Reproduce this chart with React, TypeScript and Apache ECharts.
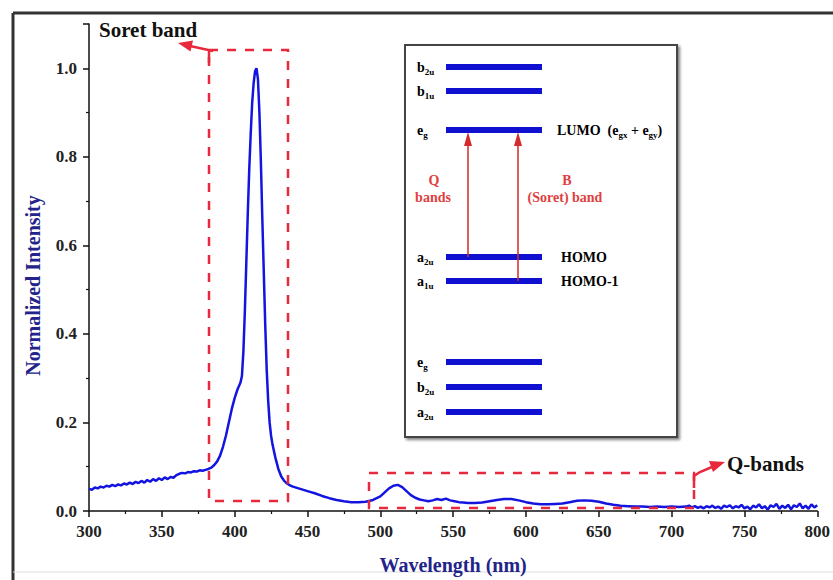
import React, { useEffect, useRef } from "react";
import * as echarts from "echarts";

// Spectrum segments: [wavelength (nm), normalized intensity]
const preSoret: [number, number][] = [
  [300, 0.05], [302, 0.048], [304, 0.053], [306, 0.051], [308, 0.055], [310, 0.053],
  [312, 0.057], [314, 0.055], [316, 0.059], [318, 0.056], [320, 0.06], [322, 0.058],
  [324, 0.062], [326, 0.06], [328, 0.064], [330, 0.061], [332, 0.066], [334, 0.063],
  [336, 0.068], [338, 0.064], [340, 0.07], [342, 0.066], [344, 0.072], [346, 0.068],
  [348, 0.074], [350, 0.07], [352, 0.076], [354, 0.072], [356, 0.077], [358, 0.075],
  [360, 0.081], [362, 0.084], [364, 0.086], [366, 0.085], [368, 0.088], [370, 0.087],
  [372, 0.09], [374, 0.089], [376, 0.092], [378, 0.091], [380, 0.093], [382, 0.095],
];
const soret: [number, number][] = [
  [384, 0.098], [386, 0.104], [388, 0.112], [390, 0.125], [392, 0.145], [394, 0.17],
  [396, 0.2], [398, 0.23], [400, 0.255], [402, 0.275], [404, 0.29], [405, 0.305],
  [406, 0.36], [407, 0.45], [408, 0.56], [409, 0.67], [410, 0.77], [411, 0.85],
  [412, 0.92], [413, 0.965], [414, 0.993], [415, 1.0], [416, 0.975], [417, 0.9],
  [418, 0.79], [419, 0.66], [420, 0.54], [421, 0.42], [422, 0.32], [423, 0.25],
  [424, 0.2], [425, 0.17], [426, 0.15], [428, 0.12], [430, 0.095], [432, 0.078],
  [434, 0.068], [436, 0.062], [438, 0.058], [440, 0.055],
];
const qRegion: [number, number][] = [
  [445, 0.05], [450, 0.045], [455, 0.04], [460, 0.034], [465, 0.029], [470, 0.025],
  [475, 0.022], [480, 0.02], [485, 0.02], [490, 0.021], [495, 0.025], [500, 0.033],
  [503, 0.042], [506, 0.051], [509, 0.057], [512, 0.059], [515, 0.054], [518, 0.045],
  [521, 0.036], [524, 0.03], [527, 0.026], [530, 0.024], [533, 0.022], [536, 0.024],
  [539, 0.027], [542, 0.025], [545, 0.028], [548, 0.024], [551, 0.022], [554, 0.02],
  [557, 0.019], [560, 0.018], [565, 0.018], [570, 0.019], [575, 0.022], [580, 0.025],
  [585, 0.027], [590, 0.027], [595, 0.024], [600, 0.02], [605, 0.017], [610, 0.015],
  [615, 0.015], [620, 0.016], [625, 0.017], [630, 0.02], [635, 0.023], [640, 0.024],
  [645, 0.023], [650, 0.021], [655, 0.017], [660, 0.014], [665, 0.012], [670, 0.011],
  [675, 0.01], [680, 0.01], [685, 0.009], [690, 0.01], [695, 0.009], [700, 0.01],
  [705, 0.009], [710, 0.01],
];
const tail: [number, number][] = [
  [712, 0.012], [714, 0.008], [716, 0.011], [718, 0.007], [720, 0.01], [722, 0.006],
  [724, 0.011], [726, 0.008], [728, 0.012], [730, 0.007], [732, 0.01], [734, 0.005],
  [736, 0.012], [738, 0.009], [740, 0.013], [742, 0.006], [744, 0.011], [746, 0.008],
  [748, 0.014], [750, 0.006], [752, 0.01], [754, 0.004], [756, 0.012], [758, 0.008],
  [760, 0.015], [762, 0.006], [764, 0.011], [766, 0.003], [768, 0.013], [770, 0.009],
  [772, 0.016], [774, 0.005], [776, 0.012], [778, 0.007], [780, 0.014], [782, 0.004],
  [784, 0.013], [786, 0.009], [788, 0.017], [790, 0.006], [792, 0.012], [794, 0.005],
  [796, 0.015], [798, 0.008], [800, 0.013],
];

// Inset energy-level labels (main letter, subscript)
const levelLabels: [string, string][] = [
  ["b", "2u"], ["b", "1u"], ["e", "g"], ["a", "2u"], ["a", "1u"], ["e", "g"], ["b", "2u"], ["a", "2u"],
];
const levelNotes = ["", "", "LUMO", "HOMO", "HOMO-1", "", "", ""];

const SERIF = "'Liberation Serif', 'Times New Roman', serif";
const RED = "#e8283c";
const NAVY = "#23238a";

export default function App() {
  const ref = useRef<HTMLDivElement>(null);

  useEffect(() => {
    if (!ref.current) return;
    const chart = echarts.init(ref.current, null, { renderer: "svg" });
    const data = [...preSoret, ...soret, ...qRegion, ...tail];

    const levelY = [67, 91, 130, 257, 281, 362, 387, 412];
    const rich = {
      m: { fontFamily: SERIF, fontWeight: "bold", fontSize: 14, color: "#333", verticalAlign: "bottom" },
      s: { fontFamily: SERIF, fontWeight: "bold", fontSize: 9, color: "#333", verticalAlign: "bottom", padding: [0, 0, -2, 0] },
    };
    const g: any[] = [];
    // outer frame
    g.push({ type: "line", shape: { x1: 13, y1: 13, x2: 833, y2: 13 }, style: { stroke: "#333", lineWidth: 3 } });
    g.push({ type: "line", shape: { x1: 13, y1: 13, x2: 13, y2: 580 }, style: { stroke: "#333", lineWidth: 3 } });
    g.push({ type: "line", shape: { x1: 13, y1: 572, x2: 833, y2: 572 }, style: { stroke: "#ddd", lineWidth: 1 } });
    // inset box
    g.push({
      type: "rect", z: 50,
      shape: { x: 405, y: 45, width: 272, height: 392 },
      style: { fill: "#fff", stroke: "#444", lineWidth: 2, shadowBlur: 3, shadowOffsetX: 2, shadowOffsetY: 2, shadowColor: "rgba(0,0,0,0.5)" },
    });
    levelY.forEach((y, i) => {
      g.push({ type: "rect", z: 52, shape: { x: 446, y: y - 3, width: 96, height: 6 }, style: { fill: "#1010d0" } });
      const [m, s] = levelLabels[i];
      g.push({
        type: "text", z: 53, x: 417, y: y,
        style: { text: `{m|${m}}{s|${s}}`, rich, verticalAlign: "middle", align: "left" },
      });
    });
    // right labels
    g.push({
      type: "text", z: 53, x: 557, y: levelY[2],
      style: { text: `{m|${levelNotes[2]}  (e}{s|gx}{m| + e}{s|gy}{m|)}`, rich, verticalAlign: "middle" },
    });
    g.push({ type: "text", z: 53, x: 561, y: levelY[3], style: { text: `{m|${levelNotes[3]}}`, rich, verticalAlign: "middle" } });
    g.push({ type: "text", z: 53, x: 561, y: levelY[4], style: { text: `{m|${levelNotes[4]}}`, rich, verticalAlign: "middle" } });
    // transition arrows
    const arr = (x: number, y0: number) => {
      g.push({ type: "line", z: 54, shape: { x1: x, y1: y0, x2: x, y2: 140 }, style: { stroke: "#d42a2a", lineWidth: 1.5 } });
      g.push({ type: "polygon", z: 54, shape: { points: [[x, 132], [x - 4, 146], [x + 4, 146]] }, style: { fill: "#d42a2a" } });
    };
    arr(468, 257);
    arr(518, 281);
    const redTxt = (t: string, x: number, y: number) =>
      g.push({ type: "text", z: 55, x, y, style: { text: t, fill: "#e04040", font: `bold 14px ${SERIF}`, align: "center", verticalAlign: "middle" } });
    redTxt("Q", 434, 180);
    redTxt("bands", 433, 197);
    redTxt("B", 567, 180);
    redTxt("(Soret) band", 565, 197);
    // Soret dashed box and arrow
    const dash = { fill: "none", stroke: RED, lineWidth: 2.5, lineDash: [9, 9] };
    g.push({ type: "rect", z: 40, shape: { x: 209, y: 50, width: 79, height: 451 }, style: dash });
    g.push({ type: "line", z: 41, shape: { x1: 209, y1: 50, x2: 209, y2: 63 }, style: { stroke: RED, lineWidth: 2.5 } });
    g.push({ type: "line", z: 41, shape: { x1: 213, y1: 51, x2: 190, y2: 46 }, style: { stroke: RED, lineWidth: 2.5 } });
    g.push({ type: "polygon", z: 41, shape: { points: [[178, 43], [193, 40.5], [190.5, 51.5]] }, style: { fill: RED } });
    g.push({ type: "text", z: 41, x: 99, y: 30, style: { text: "Soret band", fill: "#111", font: `bold 21px ${SERIF}`, verticalAlign: "middle" } });
    // Q dashed box and arrow
    g.push({ type: "rect", z: 40, shape: { x: 369, y: 473, width: 325, height: 35 }, style: dash });
    g.push({ type: "polyline", z: 41, shape: { points: [[694, 488], [694, 476], [700, 472], [712, 467]] }, style: { stroke: RED, lineWidth: 2.5, fill: "none" } });
    g.push({ type: "polygon", z: 41, shape: { points: [[725, 462], [709, 461], [713, 472]] }, style: { fill: RED } });
    g.push({ type: "text", z: 41, x: 727, y: 464, style: { text: "Q-bands", fill: "#111", font: `bold 21px ${SERIF}`, verticalAlign: "middle" } });

    chart.setOption({
      animation: false,
      backgroundColor: "#fff",
      grid: { left: 89, right: 15, top: 24, bottom: 69 },
      xAxis: {
        type: "value", min: 300, max: 800, interval: 50,
        name: "Wavelength (nm)", nameLocation: "middle", nameGap: 44,
        nameTextStyle: { fontFamily: SERIF, fontWeight: "bold", fontSize: 20, color: NAVY },
        axisLine: { lineStyle: { color: "#111", width: 1.5 } },
        axisTick: { inside: false, length: 6, lineStyle: { color: "#111", width: 1.5 } },
        minorTick: { show: true, splitNumber: 2, length: 3, lineStyle: { color: "#111", width: 1.2 } },
        axisLabel: { fontFamily: SERIF, fontWeight: "bold", fontSize: 17, color: "#222", margin: 12 },
        splitLine: { show: false },
      },
      yAxis: {
        type: "value", min: 0, max: 1.1, interval: 0.2,
        name: "Normalized Intensity", nameLocation: "middle", nameGap: 46, nameRotate: 90,
        nameTextStyle: { fontFamily: SERIF, fontWeight: "bold", fontSize: 20, color: NAVY, padding: [0, 36, 0, 0] },
        axisLine: { show: true, lineStyle: { color: "#111", width: 1.5 } },
        axisTick: { inside: false, length: 6, lineStyle: { color: "#111", width: 1.5 } },
        minorTick: { show: true, splitNumber: 2, length: 3, lineStyle: { color: "#111", width: 1.2 } },
        axisLabel: {
          fontFamily: SERIF, fontWeight: "bold", fontSize: 17, color: "#222", margin: 12,
          showMaxLabel: false, formatter: (v: number) => v.toFixed(1),
        },
        splitLine: { show: false },
      },
      series: [
        {
          type: "line", data, showSymbol: false, smooth: false, z: 10,
          lineStyle: { color: "#1414e0", width: 2.5 },
        },
      ],
      graphic: g,
    });
    return () => chart.dispose();
  }, []);

  return <div ref={ref} style={{ position: "fixed", left: 0, top: 0, width: 833, height: 580 }} />;
}
